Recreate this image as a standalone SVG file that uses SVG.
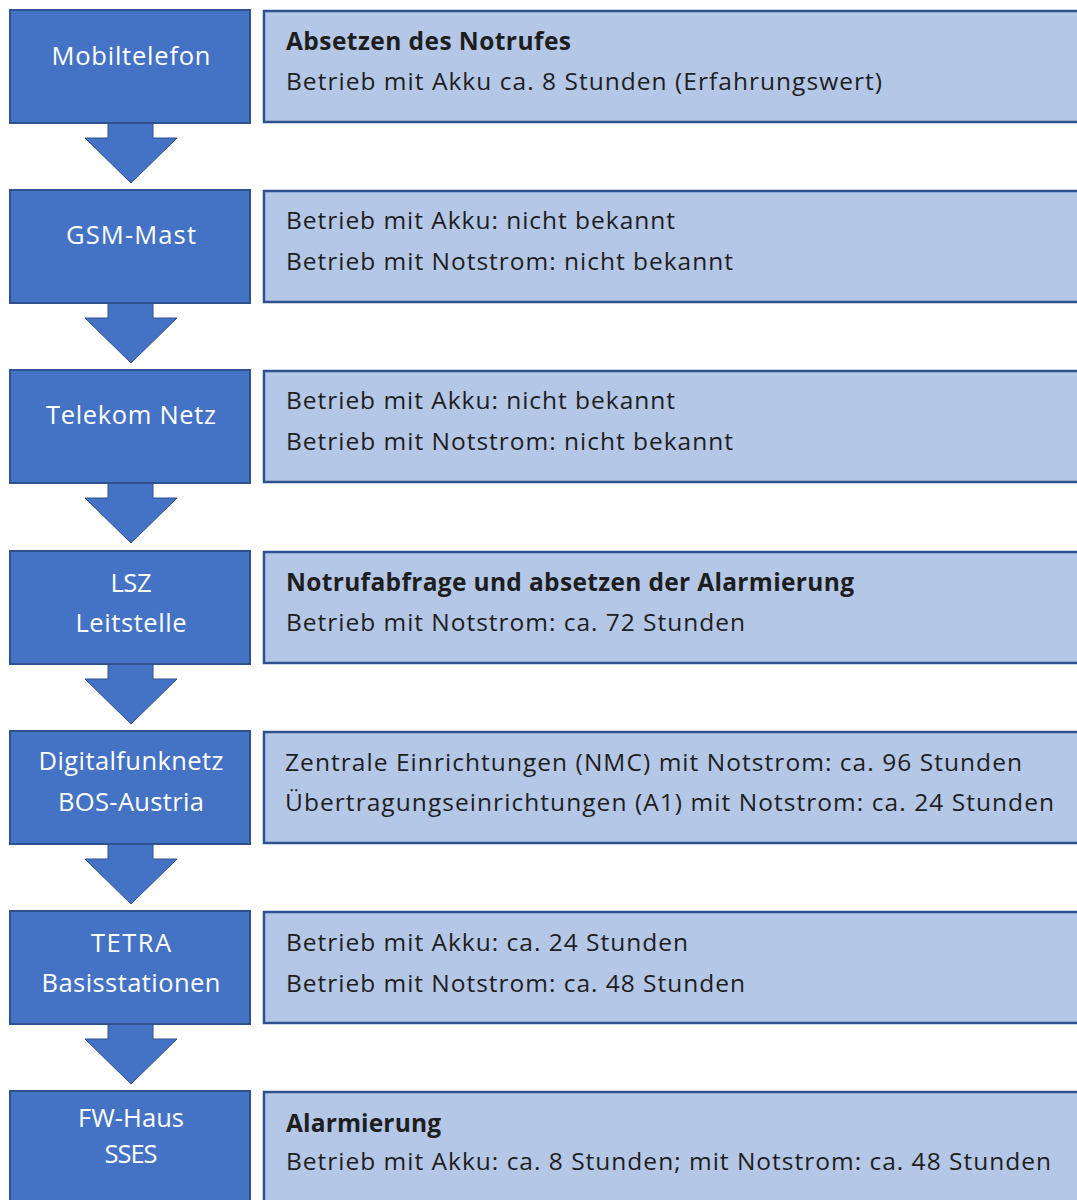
<svg xmlns="http://www.w3.org/2000/svg" width="1077" height="1200" viewBox="0 0 1077 1200">
  <defs>
    <style>
      .step { fill: #4472C4; stroke: #2F528F; stroke-width: 2; }
      .info { fill: #B4C7E7; stroke: #2F528F; stroke-width: 2.5; }
      .flow { fill: #4472C4; stroke: #2F528F; stroke-width: 1; }
      .lbl { font-family: "Open Sans", "Noto Sans", sans-serif; font-size: 25.5px; fill: #FFFFFF; text-anchor: middle; }
      .txt { font-family: "Open Sans", "Noto Sans", sans-serif; font-size: 24.5px; fill: #1E1E1E; }
      .b { font-weight: bold; }
    </style>
    <!-- down arrow, origin at the bottom edge of the step box centre -->
    <path id="down" d="M -23 -2 L 22 -2 L 22 15 L 46 15 L 0 60 L -46 15 L -23 15 Z"/>
  </defs>
  <rect width="1077" height="1200" fill="#FFFFFF"/>

  <!-- connectors between the steps -->
  <g id="connectors">
    <use href="#down" class="flow" x="131" y="123"/>
    <use href="#down" class="flow" x="131" y="303"/>
    <use href="#down" class="flow" x="131" y="483"/>
    <use href="#down" class="flow" x="131" y="664"/>
    <use href="#down" class="flow" x="131" y="844"/>
    <use href="#down" class="flow" x="131" y="1024"/>
  </g>

  <g id="mobiltelefon">
    <rect class="step" x="10" y="10" width="240" height="113"/>
    <text class="lbl" x="131" y="65" textLength="159" lengthAdjust="spacing">Mobiltelefon</text>
  </g>
  <g id="info-mobiltelefon">
    <rect class="info" x="264" y="11" width="830" height="111"/>
    <text class="txt b" x="286" y="50" textLength="285" lengthAdjust="spacing">Absetzen des Notrufes</text>
    <text class="txt" x="286" y="90" textLength="596" lengthAdjust="spacing">Betrieb mit Akku ca. 8 Stunden (Erfahrungswert)</text>
  </g>

  <g id="gsm-mast">
    <rect class="step" x="10" y="190" width="240" height="113"/>
    <text class="lbl" x="131" y="244" textLength="130" lengthAdjust="spacing">GSM-Mast</text>
  </g>
  <g id="info-gsm-mast">
    <rect class="info" x="264" y="191" width="830" height="111"/>
    <text class="txt" x="286" y="229" textLength="389" lengthAdjust="spacing">Betrieb mit Akku: nicht bekannt</text>
    <text class="txt" x="286" y="270" textLength="447" lengthAdjust="spacing">Betrieb mit Notstrom: nicht bekannt</text>
  </g>

  <g id="telekom-netz">
    <rect class="step" x="10" y="370" width="240" height="113"/>
    <text class="lbl" x="131" y="424" textLength="170" lengthAdjust="spacing">Telekom Netz</text>
  </g>
  <g id="info-telekom-netz">
    <rect class="info" x="264" y="371" width="830" height="111"/>
    <text class="txt" x="286" y="409" textLength="389" lengthAdjust="spacing">Betrieb mit Akku: nicht bekannt</text>
    <text class="txt" x="286" y="450" textLength="447" lengthAdjust="spacing">Betrieb mit Notstrom: nicht bekannt</text>
  </g>

  <g id="lsz-leitstelle">
    <rect class="step" x="10" y="551" width="240" height="113"/>
    <text class="lbl" x="131" y="592" textLength="41" lengthAdjust="spacing">LSZ</text>
    <text class="lbl" x="131" y="632" textLength="111" lengthAdjust="spacing">Leitstelle</text>
  </g>
  <g id="info-lsz-leitstelle">
    <rect class="info" x="264" y="552" width="830" height="111"/>
    <text class="txt b" x="286" y="591" textLength="568" lengthAdjust="spacing">Notrufabfrage und absetzen der Alarmierung</text>
    <text class="txt" x="286" y="631" textLength="459" lengthAdjust="spacing">Betrieb mit Notstrom: ca. 72 Stunden</text>
  </g>

  <g id="digitalfunknetz">
    <rect class="step" x="10" y="731" width="240" height="113"/>
    <text class="lbl" x="131" y="770" textLength="185" lengthAdjust="spacing">Digitalfunknetz</text>
    <text class="lbl" x="131" y="811" textLength="146" lengthAdjust="spacing">BOS-Austria</text>
  </g>
  <g id="info-digitalfunknetz">
    <rect class="info" x="264" y="732" width="830" height="111"/>
    <text class="txt" x="285" y="771" textLength="737" lengthAdjust="spacing">Zentrale Einrichtungen (NMC) mit Notstrom: ca. 96 Stunden</text>
    <text class="txt" x="285" y="811" textLength="769" lengthAdjust="spacing">Übertragungseinrichtungen (A1) mit Notstrom: ca. 24 Stunden</text>
  </g>

  <g id="tetra-basisstationen">
    <rect class="step" x="10" y="911" width="240" height="113"/>
    <text class="lbl" x="131" y="952" textLength="80" lengthAdjust="spacing">TETRA</text>
    <text class="lbl" x="131" y="992" textLength="179" lengthAdjust="spacing">Basisstationen</text>
  </g>
  <g id="info-tetra-basisstationen">
    <rect class="info" x="264" y="912" width="830" height="111"/>
    <text class="txt" x="286" y="951" textLength="402" lengthAdjust="spacing">Betrieb mit Akku: ca. 24 Stunden</text>
    <text class="txt" x="286" y="992" textLength="459" lengthAdjust="spacing">Betrieb mit Notstrom: ca. 48 Stunden</text>
  </g>

  <g id="fw-haus">
    <rect class="step" x="10" y="1091" width="240" height="130"/>
    <text class="lbl" x="131" y="1127" textLength="106" lengthAdjust="spacing">FW-Haus</text>
    <text class="lbl" x="131" y="1163" textLength="53" lengthAdjust="spacing">SSES</text>
  </g>
  <g id="info-fw-haus">
    <rect class="info" x="264" y="1092" width="830" height="130"/>
    <text class="txt b" x="286" y="1132" textLength="155" lengthAdjust="spacing">Alarmierung</text>
    <text class="txt" x="286" y="1170" textLength="765" lengthAdjust="spacing">Betrieb mit Akku: ca. 8 Stunden; mit Notstrom: ca. 48 Stunden</text>
  </g>
</svg>
